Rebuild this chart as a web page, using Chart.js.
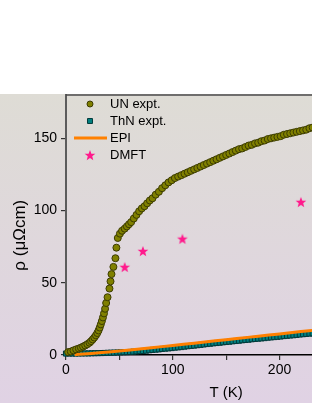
<!DOCTYPE html>
<html>
<head>
<meta charset="utf-8">
<script src="https://cdn.jsdelivr.net/npm/chart.js@4.4.1/dist/chart.umd.min.js"></script>
<style>
  html, body { margin: 0; padding: 0; background: #fff; overflow: hidden; }
  #wrap { position: relative; width: 312px; height: 403px; overflow: hidden; }
  #grafico {
    position: absolute; left: 0; top: 0;
    background: linear-gradient(to bottom, #fff 0, #fff 94px, #dedcd5 94px, #e0d2e4 403px);
  }
</style>
</head>
<body>
<div id="wrap"><canvas id="grafico" width="400" height="403"></canvas></div>
<script>
// UN expt. (T in K, rho in µΩcm)
const unT = [2, 4.5, 7, 9.5, 12, 14, 16, 18, 20, 22, 23.5, 25, 26.5, 28, 29.3, 30.5, 31.6, 32.6, 33.6, 34.6,
  35.6, 36.6, 37.6, 38.9, 40.7, 41.7, 42.6, 44.4, 46.3, 47.2,
  48.5, 50.5, 52.5, 55, 57, 59, 61, 63.5, 66, 68.5, 71, 73.5, 76, 78.5, 81,
  84, 87, 90, 93, 96, 99, 102, 105, 108, 111, 114, 117, 120, 123, 126, 129, 132, 135, 138, 141,
  144, 147, 150, 153, 156, 159, 162, 165, 168, 171, 174, 177, 180, 183, 186, 189, 192, 195, 198, 201,
  204, 207, 210, 213, 216, 219, 222, 225, 228, 231];
const unRho = [2, 2.4, 3.2, 3.9, 4.5, 5.1, 5.8, 6.6, 7.5, 8.5, 9.6, 10.8, 12.1, 13.6, 15.2, 17, 19, 21.2, 23.5, 26,
  28.8, 32, 36, 40, 46, 51, 56, 61, 67, 74.3,
  81, 84, 86, 87.5, 89, 90.5, 92, 94.5, 97, 99.5, 101.5, 103, 105, 107, 108.5,
  111, 113, 115.5, 117.5, 119.5, 121, 122.5, 123.5, 124.5, 125.5, 126.5, 127.5, 128.5, 129.5, 130.5, 131.5, 132.5, 133.5, 134.5, 135.5,
  136.5, 137.5, 138.5, 139.5, 140.5, 141.5, 142.5, 143, 144, 145, 145.5, 146.5, 147, 148, 148.5, 149.5, 150, 150.5, 151, 151.5,
  152.5, 153, 153.5, 154, 154.5, 155, 155.5, 156, 157, 157.5];

// ThN expt.
const thnT = [0, 3, 6, 9, 12, 15, 18, 21, 24, 27, 30, 33, 36, 39, 42, 45, 48, 51, 54, 57,
  60, 63, 66, 69, 72, 75, 78, 81, 84, 87, 90, 93, 96, 99, 102, 105, 108, 111, 114, 117,
  120, 123, 126, 129, 132, 135, 138, 141, 144, 147, 150, 153, 156, 159, 162, 165, 168, 171, 174, 177,
  180, 183, 186, 189, 192, 195, 198, 201, 204, 207, 210, 213, 216, 219, 222, 225, 228, 231];
const thnRho = [1.0, 1.0, 1.0, 1.0, 1.05, 1.05, 1.1, 1.1, 1.2, 1.25, 1.3, 1.35, 1.4, 1.5, 1.6, 1.65, 1.75, 1.85, 1.95, 2.0,
  2.1, 2.3, 2.5, 2.7, 2.8, 3.0, 3.3, 3.5, 3.7, 3.9, 4.2, 4.4, 4.6, 4.8, 5.1, 5.3, 5.5, 5.8, 6.1, 6.3,
  6.5, 6.8, 7.0, 7.3, 7.6, 7.8, 8.1, 8.3, 8.5, 8.8, 9.0, 9.2, 9.5, 9.7, 9.9, 10.2, 10.4, 10.6, 10.9, 11.1,
  11.3, 11.5, 11.7, 12.0, 12.2, 12.4, 12.6, 12.8, 13.1, 13.3, 13.5, 13.7, 13.9, 14.2, 14.4, 14.6, 14.8, 15.0];

// EPI (line)
const epiT = [8, 20, 40, 60, 80, 100, 120, 140, 160, 180, 200, 220, 240];
const epiRho = [0.3, 0.8, 2.0, 3.4, 5.0, 6.6, 8.2, 9.8, 11.4, 13.0, 14.6, 16.2, 17.8];

// DMFT (stars)
const dmftT = [55, 72, 109, 220];
const dmftRho = [61, 72, 80.5, 106];

// Ticks
const xMarcas = [0, 50, 100, 150, 200, 250, 300];
const xEtiquetas = [0, 100, 200, 300];
const yMarcas = [0, 50, 100, 150];

const leyendaNombres = ['UN expt.', 'ThN expt.', 'EPI', 'DMFT'];

const fuente = '"Liberation Sans", Arial, sans-serif';

const colores = {
    un: '#808000',
    unBorde: '#3b3b00',
    thn: '#008080',
    thnBorde: '#003a3a',
    epi: '#ff8000',
    dmft: '#ff1a8c'
};

function puntos(xs, ys) {
    return xs.map((x, i) => ({ x: x, y: ys[i] }));
}

// filled five-point star, Chart.js 'star' is only an asterisk
function crearEstrella(radio, color) {
    const c = document.createElement('canvas');
    const s = Math.ceil(radio * 2) + 2;
    c.width = s;
    c.height = s;
    const g = c.getContext('2d');
    g.fillStyle = color;
    g.beginPath();
    for (let i = 0; i < 10; i++) {
        const r = i % 2 === 0 ? radio : radio * 0.42;
        const a = -Math.PI / 2 + i * Math.PI / 5;
        g.lineTo(s / 2 + r * Math.cos(a), s / 2 + 0.6 + r * Math.sin(a));
    }
    g.closePath();
    g.fill();
    return c;
}

const estrella = crearEstrella(5.6, colores.dmft);

// legend inside the plot + top frame line
const leyendaInterna = {
    id: 'leyendaInterna',
    afterDatasetsDraw(chart) {
        const { ctx, chartArea } = chart;
        ctx.save();

        ctx.strokeStyle = '#4a4a4a';
        ctx.lineWidth = 1.5;
        ctx.beginPath();
        ctx.moveTo(chartArea.left, chartArea.top);
        ctx.lineTo(chartArea.right, chartArea.top);
        ctx.stroke();

        const mx = chartArea.left + 24;
        const tx = chartArea.left + 44;
        const y0 = chartArea.top + 9;
        const dy = 17;

        // UN
        ctx.fillStyle = colores.un;
        ctx.strokeStyle = colores.unBorde;
        ctx.lineWidth = 1;
        Chart.helpers.drawPoint(ctx, { pointStyle: 'circle', radius: 3, rotation: 0, borderWidth: 1 }, mx, y0);
        // ThN
        ctx.fillStyle = colores.thn;
        ctx.strokeStyle = colores.thnBorde;
        Chart.helpers.drawPoint(ctx, { pointStyle: 'rect', radius: 3.5, rotation: 0, borderWidth: 1 }, mx, y0 + dy);
        // EPI
        ctx.strokeStyle = colores.epi;
        ctx.lineWidth = 3;
        ctx.beginPath();
        ctx.moveTo(chartArea.left + 8, y0 + 2 * dy);
        ctx.lineTo(chartArea.left + 41, y0 + 2 * dy);
        ctx.stroke();
        // DMFT
        ctx.drawImage(estrella, mx - estrella.width / 2, y0 + 3 * dy - estrella.height / 2);

        ctx.font = '13px ' + fuente;
        ctx.fillStyle = '#000';
        ctx.textBaseline = 'middle';
        leyendaNombres.forEach((txt, i) => {
            ctx.fillText(txt, tx, y0 + i * dy + 0.5);
        });
        ctx.restore();
    }
};

new Chart(document.getElementById('grafico'), {
    type: 'scatter',
    data: {
        datasets: [
            {
                label: 'UN expt.',
                data: puntos(unT, unRho),
                pointStyle: 'circle',
                pointRadius: 3.5,
                pointBackgroundColor: colores.un,
                pointBorderColor: colores.unBorde,
                pointBorderWidth: 1,
                clip: false
            },
            {
                label: 'DMFT',
                data: puntos(dmftT, dmftRho),
                pointStyle: estrella,
                pointRadius: 6,
                clip: false
            },
            {
                label: 'EPI',
                data: puntos(epiT, epiRho),
                showLine: true,
                borderColor: colores.epi,
                borderWidth: 3,
                pointRadius: 0,
                cubicInterpolationMode: 'monotone',
                clip: false
            },
            {
                label: 'ThN expt.',
                data: puntos(thnT, thnRho),
                pointStyle: 'rect',
                pointRadius: 3.6,
                pointBackgroundColor: colores.thn,
                pointBorderColor: colores.thnBorde,
                pointBorderWidth: 1,
                clip: false
            }
        ]
    },
    options: {
        responsive: false,
        animation: false,
        layout: { padding: { top: 95, right: 10, left: 0, bottom: 0 } },
        plugins: {
            legend: { display: false },
            tooltip: { enabled: false }
        },
        scales: {
            x: {
                type: 'linear',
                position: 'bottom',
                min: 0,
                max: 300,
                afterBuildTicks: s => { s.ticks = xMarcas.map(v => ({ value: v })); },
                afterFit: s => { s.height = 48; },
                ticks: {
                    autoSkip: false,
                    maxRotation: 0,
                    padding: 2,
                    color: '#000',
                    font: { family: fuente, size: 14 },
                    callback: v => xEtiquetas.includes(v) ? v : ''
                },
                grid: { drawOnChartArea: false, drawTicks: true, tickLength: 5, color: '#333', lineWidth: 1.2 },
                border: { color: '#000', width: 1.5 },
                title: {
                    display: true,
                    text: 'T (K)',
                    color: '#000',
                    font: { family: fuente, size: 15 },
                    padding: { top: 0, bottom: 1 }
                }
            },
            y: {
                min: 0,
                max: 180,
                afterBuildTicks: s => { s.ticks = yMarcas.map(v => ({ value: v })); },
                afterFit: s => { s.width = 66; },
                ticks: {
                    padding: 4,
                    color: '#000',
                    font: { family: fuente, size: 14 }
                },
                grid: { drawOnChartArea: false, drawTicks: true, tickLength: 5, color: '#333', lineWidth: 1.2 },
                border: { color: '#5c5c5c', width: 2 },
                title: {
                    display: true,
                    // trailing space nudges the rotated title a little lower, as in the original
                    text: 'ρ (μΩcm)\u2003\u2009',
                    color: '#000',
                    font: { family: fuente, size: 17 },
                    padding: { top: 10, bottom: 0 }
                }
            }
        }
    },
    plugins: [leyendaInterna]
});
</script>
</body>
</html>
